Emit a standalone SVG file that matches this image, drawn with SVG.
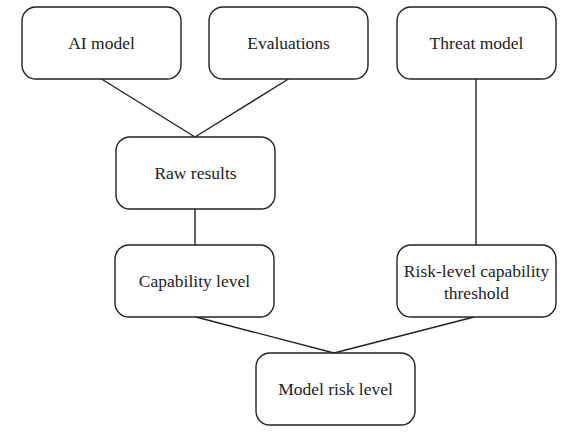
<svg xmlns="http://www.w3.org/2000/svg" width="577" height="433" viewBox="0 0 577 433">
<style>
.box{fill:#fff;stroke:#222;stroke-width:1.4}
.lbl{font-family:'Liberation Serif','Times New Roman',serif;font-size:17.5px;fill:#222;text-anchor:middle}
.edge{stroke:#222;stroke-width:1.4;fill:none}
</style>
<rect width="577" height="433" fill="#fff"/>
<g id="connectors">
<line class="edge" x1="101.5" y1="79" x2="195" y2="137"/>
<line class="edge" x1="288.5" y1="79" x2="195" y2="137"/>
<line class="edge" x1="476" y1="79" x2="476" y2="245"/>
<line class="edge" x1="195" y1="209" x2="195" y2="245"/>
<line class="edge" x1="196" y1="317" x2="334" y2="353"/>
<line class="edge" x1="474" y1="317" x2="334" y2="353"/>
</g>
<g id="ai-model">
<rect class="box" x="22" y="7" width="159" height="72" rx="14"/>
<text class="lbl" x="101.5" y="48.5">AI model</text>
</g>
<g id="evaluations">
<rect class="box" x="209" y="7" width="159" height="72" rx="14"/>
<text class="lbl" x="288.5" y="48.5">Evaluations</text>
</g>
<g id="threat-model">
<rect class="box" x="397" y="7" width="159" height="72" rx="14"/>
<text class="lbl" x="476.5" y="48.5">Threat model</text>
</g>
<g id="raw-results">
<rect class="box" x="116" y="137" width="159" height="72" rx="14"/>
<text class="lbl" x="195.5" y="178.5">Raw results</text>
</g>
<g id="capability-level">
<rect class="box" x="115" y="245" width="159" height="72" rx="14"/>
<text class="lbl" x="194.5" y="286.5">Capability level</text>
</g>
<g id="risk-threshold">
<rect class="box" x="397" y="245" width="159" height="72" rx="14"/>
<text class="lbl" x="476.5" y="277">Risk-level capability</text>
<text class="lbl" x="476.5" y="299">threshold</text>
</g>
<g id="model-risk-level">
<rect class="box" x="256" y="353" width="159" height="72" rx="14"/>
<text class="lbl" x="335.5" y="394.5">Model risk level</text>
</g>
</svg>
